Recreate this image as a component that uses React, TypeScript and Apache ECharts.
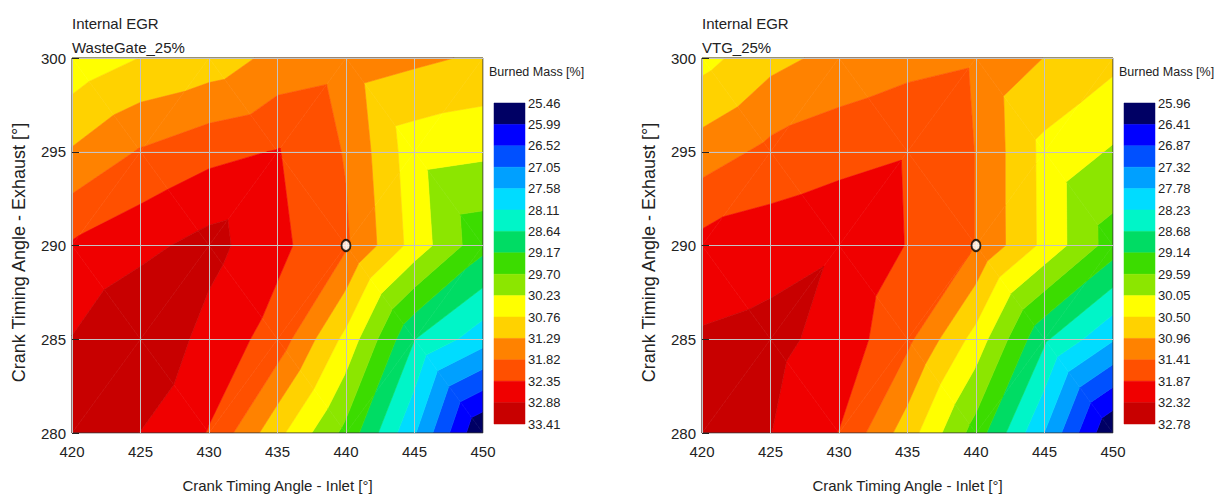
import React, { useEffect, useRef } from "react";
import * as echarts from "echarts";

// ---------- data ----------
const inletAngles = [420, 425, 430, 435, 440, 445, 450];
const exhaustAngles = [280, 285, 290, 295, 300];
const operatingPoint = [440, 290];

// rows: exhaust 280, 285, 290, 295, 300 ; columns: inlet 420 .. 450
const wasteGateBurnedMass = [
  [33.15, 32.87, 32.32, 30.92, 29.54, 27.63, 25.46],
  [32.9, 33.41, 32.67, 32.14, 30.6, 28.65, 27.79],
  [32.41, 32.73, 33.07, 32.48, 31.9, 30.55, 29.33],
  [31.34, 31.87, 32.19, 32.38, 31.78, 30.44, 30.33],
  [30.39, 30.77, 30.97, 31.45, 31.6, 31.4, 31.21],
];

const vtgBurnedMass = [
  [32.78, 32.33, 31.86, 30.72, 29.39, 27.77, 25.96],
  [32.37, 32.46, 32.14, 31.52, 30.32, 28.75, 27.82],
  [32.02, 32.14, 32.28, 31.85, 31.4, 30.38, 29.37],
  [31.17, 31.53, 31.69, 31.83, 31.4, 30.37, 30.0],
  [30.34, 30.82, 31.1, 31.26, 31.36, 30.95, 30.62],
];

const wasteGateLevels = [
  "25.46", "25.99", "26.52", "27.05", "27.58", "28.11", "28.64", "29.17",
  "29.70", "30.23", "30.76", "31.29", "31.82", "32.35", "32.88", "33.41",
];
const vtgLevels = [
  "25.96", "26.41", "26.87", "27.32", "27.78", "28.23", "28.68", "29.14",
  "29.59", "30.05", "30.50", "30.96", "31.41", "31.87", "32.32", "32.78",
];

const bandColors = [
  "#000064", "#0000ff", "#0050ff", "#00a0ff", "#00dcff", "#00f5c8", "#00dc64",
  "#3cdc00", "#8ce600", "#ffff00", "#ffd200", "#ff8200", "#ff5000", "#f00000", "#c80000",
];

const FONT = "'Liberation Sans', Arial, sans-serif";
const TXT = "#222";

// ---------- contour helpers ----------
type V = { x: number; y: number; v: number };

function clip(poly: V[], level: number, above: boolean): V[] {
  const out: V[] = [];
  const n = poly.length;
  for (let i = 0; i < n; i++) {
    const a = poly[i];
    const b = poly[(i + 1) % n];
    const ina = above ? a.v >= level : a.v <= level;
    const inb = above ? b.v >= level : b.v <= level;
    if (ina) out.push(a);
    if (ina !== inb) {
      const t = (level - a.v) / (b.v - a.v);
      out.push({ x: a.x + t * (b.x - a.x), y: a.y + t * (b.y - a.y), v: level });
    }
  }
  return out;
}

function area(pts: number[][]) {
  let s = 0;
  for (let i = 0; i < pts.length; i++) {
    const a = pts[i];
    const b = pts[(i + 1) % pts.length];
    s += a[0] * b[1] - b[0] * a[1];
  }
  return Math.abs(s / 2);
}

function makeContour(grid: number[][], labels: string[]) {
  const levels = labels.map(Number);
  return (_params: any, api: any) => {
    const x0 = api.value(0);
    const y0 = api.value(1);
    const i = inletAngles.indexOf(x0);
    const j = exhaustAngles.indexOf(y0);
    const x1 = inletAngles[i + 1];
    const y1 = exhaustAngles[j + 1];
    const p00 = { x: x0, y: y0, v: grid[j][i] };
    const p10 = { x: x1, y: y0, v: grid[j][i + 1] };
    const p01 = { x: x0, y: y1, v: grid[j + 1][i] };
    const p11 = { x: x1, y: y1, v: grid[j + 1][i + 1] };
    // alternating (checkerboard) triangulation of the grid cells
    const tris =
      (i + j) % 2 === 0
        ? [[p00, p10, p11], [p00, p11, p01]]
        : [[p00, p10, p01], [p10, p11, p01]];
    const children: any[] = [];
    for (const tri of tris) {
      for (let k = 0; k < bandColors.length; k++) {
        let poly: V[] = tri;
        if (k > 0) poly = clip(poly, levels[k], true);
        if (poly.length >= 3 && k < bandColors.length - 1) poly = clip(poly, levels[k + 1], false);
        if (poly.length < 3) continue;
        const points = poly.map((p) => api.coord([p.x, p.y]));
        if (area(points) < 0.05) continue;
        children.push({
          type: "polygon",
          shape: { points },
          style: { fill: bandColors[k], stroke: bandColors[k], lineWidth: 0.6 },
          silent: true,
        });
      }
    }
    return { type: "group", children };
  };
}

function legendRender(_params: any, api: any) {
  const k = api.value(1);
  const a = api.coord([0, k]);
  const b = api.coord([1, k + 1]);
  return {
    type: "rect",
    shape: { x: a[0], y: a[1], width: b[0] - a[0], height: b[1] - a[1] },
    style: { fill: bandColors[k], stroke: bandColors[k], lineWidth: 0.5 },
  };
}

const cells: number[][] = [];
for (let j = 0; j < exhaustAngles.length - 1; j++)
  for (let i = 0; i < inletAngles.length - 1; i++) cells.push([inletAngles[i], exhaustAngles[j]]);

const legendData = bandColors.map((_c, k) => [0, k]);

function plotAxes(g: number) {
  const x = {
    gridIndex: g,
    type: "value",
    min: 420,
    max: 450,
    interval: 5,
    z: 10,
    name: "Crank Timing Angle - Inlet [°]",
    nameLocation: "middle",
    nameGap: 45,
    nameTextStyle: { fontSize: 15, color: TXT, fontFamily: FONT },
    axisLine: { show: false },
    axisTick: { show: false },
    axisLabel: { fontSize: 15, color: TXT, margin: 11, fontFamily: FONT },
    splitLine: { show: true, lineStyle: { color: "#c4c4c4", width: 1 } },
  };
  const y = {
    gridIndex: g,
    type: "value",
    min: 280,
    max: 300,
    interval: 5,
    z: 10,
    name: "Crank Timing Angle - Exhaust [°]",
    nameLocation: "middle",
    nameGap: 44,
    nameTextStyle: { fontSize: 18, color: TXT, fontFamily: FONT, padding: [0, 14, 0, 0] },
    axisLine: { show: false },
    axisTick: { show: true, inside: true, length: 7, lineStyle: { color: "#222", width: 1 } },
    axisLabel: { fontSize: 15, color: TXT, margin: 6, fontFamily: FONT },
    splitLine: { show: true, lineStyle: { color: "#c4c4c4", width: 1 } },
  };
  return { x, y };
}

function legendAxes(g: number, labels: string[]) {
  const x = { gridIndex: g, type: "value", min: 0, max: 1, show: false };
  const y = {
    gridIndex: g,
    type: "value",
    min: 0,
    max: 15,
    interval: 1,
    inverse: true,
    position: "right",
    axisLine: { show: false },
    axisTick: { show: false },
    splitLine: { show: false },
    axisLabel: {
      show: true,
      showMinLabel: true,
      showMaxLabel: true,
      margin: 3,
      fontSize: 13,
      color: TXT,
      fontFamily: FONT,
      formatter: (v: number) => labels[Math.round(v)],
    },
  };
  return { x, y };
}

export default function App() {
  const ref = useRef<HTMLDivElement>(null);
  useEffect(() => {
    if (!ref.current) return;
    const chart = echarts.init(ref.current, undefined, { renderer: "svg" });
    const a0 = plotAxes(0);
    const a1 = plotAxes(1);
    const l0 = legendAxes(2, wasteGateLevels);
    const l1 = legendAxes(3, vtgLevels);
    const gridBox = {
      show: true,
      borderColor: "#333",
      borderWidth: 1,
      backgroundColor: "transparent",
      z: 10,
    };
    chart.setOption({
      animation: false,
      backgroundColor: "#fff",
      textStyle: { fontFamily: FONT },
      title: [
        {
          text: "Internal EGR\nWasteGate_25%",
          left: 72,
          top: 11,
          padding: 0,
          textStyle: { fontSize: 15, fontWeight: "normal", color: TXT, lineHeight: 24, fontFamily: FONT },
        },
        {
          text: "Internal EGR\nVTG_25%",
          left: 702,
          top: 11,
          padding: 0,
          textStyle: { fontSize: 15, fontWeight: "normal", color: TXT, lineHeight: 24, fontFamily: FONT },
        },
        {
          text: "Burned Mass [%]",
          left: 489,
          top: 65,
          padding: 0,
          textStyle: { fontSize: 12.5, fontWeight: "normal", color: TXT, fontFamily: FONT },
        },
        {
          text: "Burned Mass [%]",
          left: 1119,
          top: 65,
          padding: 0,
          textStyle: { fontSize: 12.5, fontWeight: "normal", color: TXT, fontFamily: FONT },
        },
      ],
      grid: [
        { left: 72, top: 58, width: 411, height: 376, ...gridBox },
        { left: 702, top: 58, width: 411, height: 376, ...gridBox },
        { left: 494, top: 103, width: 31, height: 321, show: false },
        { left: 1124, top: 103, width: 31, height: 321, show: false },
      ],
      xAxis: [a0.x, a1.x, l0.x, l1.x],
      yAxis: [a0.y, a1.y, l0.y, l1.y],
      series: [
        {
          type: "custom",
          xAxisIndex: 0,
          yAxisIndex: 0,
          renderItem: makeContour(wasteGateBurnedMass, wasteGateLevels),
          data: cells,
          silent: true,
          z: 1,
        },
        {
          type: "custom",
          xAxisIndex: 1,
          yAxisIndex: 1,
          renderItem: makeContour(vtgBurnedMass, vtgLevels),
          data: cells,
          silent: true,
          z: 1,
        },
        {
          type: "custom",
          xAxisIndex: 2,
          yAxisIndex: 2,
          renderItem: legendRender,
          data: legendData,
          silent: true,
        },
        {
          type: "custom",
          xAxisIndex: 3,
          yAxisIndex: 3,
          renderItem: legendRender,
          data: legendData,
          silent: true,
        },
        {
          type: "scatter",
          xAxisIndex: 0,
          yAxisIndex: 0,
          data: [operatingPoint],
          symbol: "circle",
          symbolSize: [9, 11],
          itemStyle: { color: "#fff", borderColor: "#000", borderWidth: 2 },
          z: 20,
          silent: true,
        },
        {
          type: "scatter",
          xAxisIndex: 1,
          yAxisIndex: 1,
          data: [operatingPoint],
          symbol: "circle",
          symbolSize: [9, 11],
          itemStyle: { color: "#fff", borderColor: "#000", borderWidth: 2 },
          z: 20,
          silent: true,
        },
      ],
    });
    return () => chart.dispose();
  }, []);
  return (
    <div
      ref={ref}
      style={{ position: "fixed", left: 0, top: 0, width: 1219, height: 498, background: "#fff" }}
    />
  );
}
